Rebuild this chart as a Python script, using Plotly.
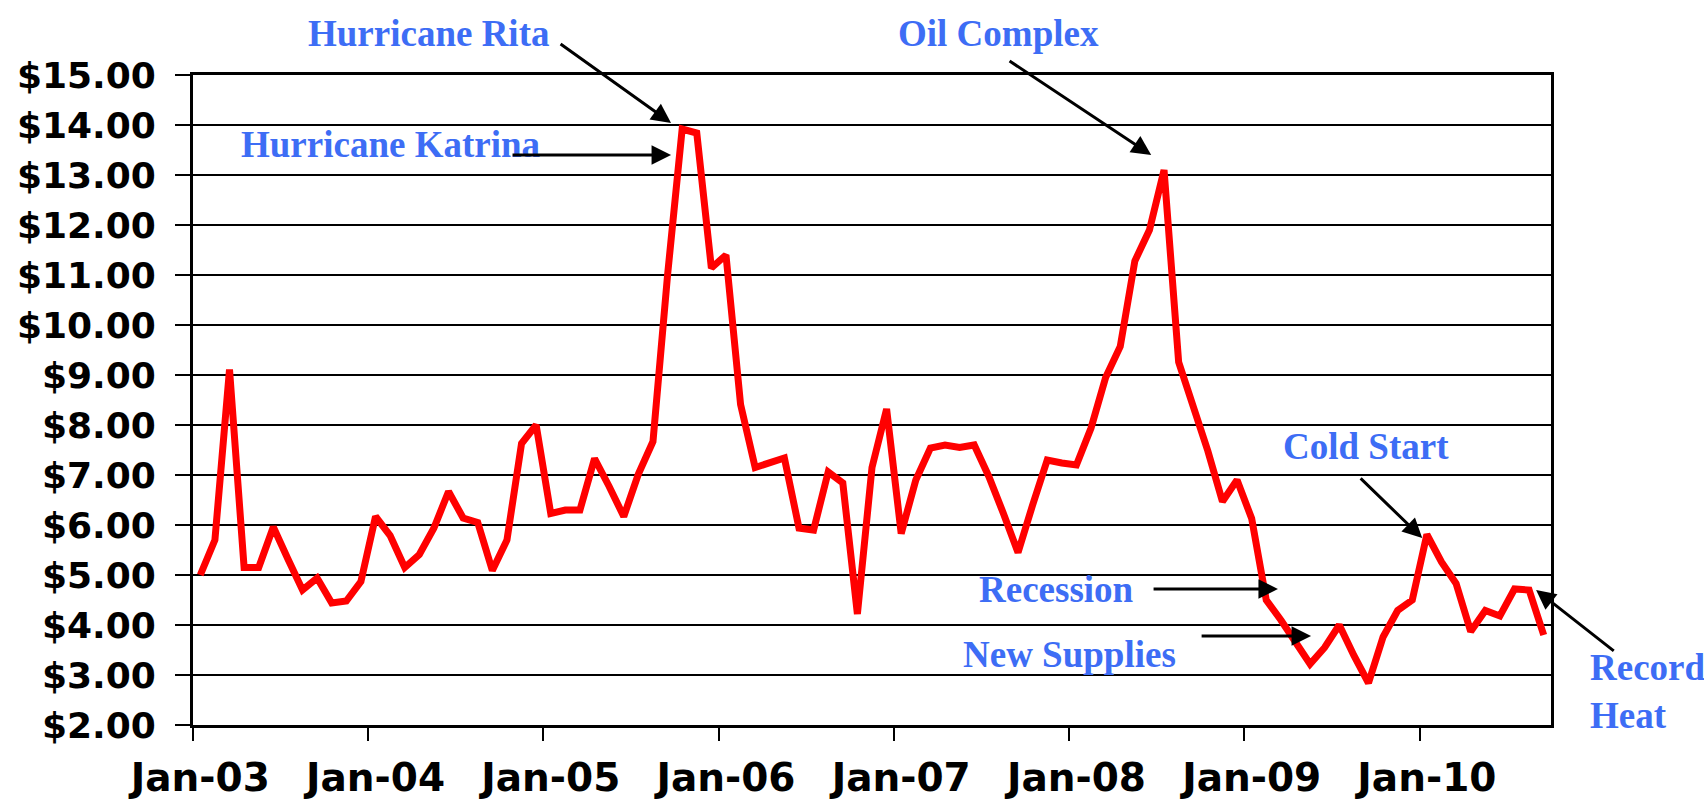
import plotly.graph_objects as go

# Monthly prices, Jan-03 .. Sep-10 ($)
prices = [
    5.00, 5.70, 9.11, 5.15, 5.15, 5.96, 5.32, 4.70, 4.94, 4.44, 4.48, 4.87,
    6.17, 5.79, 5.15, 5.41, 5.94, 6.67, 6.14, 6.05, 5.09, 5.70, 7.63, 8.00,
    6.23, 6.30, 6.30, 7.33, 6.77, 6.17, 7.02, 7.67, 11.00, 13.92, 13.84, 11.14,
    11.40, 8.41, 7.15, 7.25, 7.34, 5.94, 5.90, 7.06, 6.84, 4.22, 7.15, 8.32,
    5.83, 6.90, 7.54, 7.60, 7.55, 7.60, 6.97, 6.23, 5.45, 6.40, 7.30, 7.24,
    7.20, 7.94, 8.95, 9.57, 11.28, 11.90, 13.10, 9.26, 8.38, 7.48, 6.47, 6.90,
    6.13, 4.50, 4.10, 3.68, 3.22, 3.55, 4.00, 3.39, 2.84, 3.76, 4.29, 4.50,
    5.81, 5.26, 4.83, 3.87, 4.29, 4.18, 4.72, 4.70, 3.80,
]
month_index = list(range(len(prices)))
tick_labels = ["Jan-03", "Jan-04", "Jan-05", "Jan-06", "Jan-07", "Jan-08", "Jan-09", "Jan-10"]
tick_positions = [12 * i for i in range(len(tick_labels))]

BLUE = "#3d6df5"

fig = go.Figure()
fig.add_trace(go.Scatter(
    x=month_index, y=prices, mode="lines",
    line=dict(color="#ff0000", width=7),
    hoverinfo="skip", showlegend=False,
))

# annotation texts (paper coordinates)
labels = [
    ("Hurricane Rita", 0.1731, 1.0631, "center"),
    ("Hurricane Katrina", 0.1457, 0.8938, "center"),
    ("Oil Complex", 0.5935, 1.0646, "center"),
    ("Cold Start", 0.8641, 0.4292, "center"),
    ("Recession", 0.6355, 0.2077, "center"),
    ("New Supplies", 0.6454, 0.1092, "center"),
    ("Record<br>Heat", 1.0272, 0.0523, "left"),
]
for txt, x, y, anchor in labels:
    fig.add_annotation(
        x=x, y=y, xref="paper", yref="paper", text=txt, showarrow=False,
        xanchor=anchor, yanchor="middle", align="left",
        font=dict(family="Liberation Serif", size=37, color=BLUE, weight="bold"),
    )

# arrows: (tail x, tail y, head x, head y) in data coordinates
arrows = [
    (24.57, 15.64, 32.24, 14.04),
    (21.28, 13.40, 32.24, 13.40),
    (55.32, 15.30, 65.12, 13.40),
    (79.36, 6.96, 83.68, 5.74),
    (65.18, 4.72, 73.80, 4.72),
    (68.47, 3.78, 76.07, 3.78),
    (96.90, 3.46, 91.48, 4.70),
]
for ax, ay, hx, hy in arrows:
    fig.add_annotation(
        x=hx, y=hy, ax=ax, ay=ay, xref="x", yref="y", axref="x", ayref="y",
        text="", showarrow=True, arrowhead=2, arrowsize=1.3, arrowwidth=3,
        arrowcolor="black", standoff=0, startstandoff=0,
    )

fig.update_layout(
    width=1704, height=799,
    margin=dict(l=193, r=153, t=75, b=74),
    paper_bgcolor="white", plot_bgcolor="white",
    showlegend=False,
)
fig.update_xaxes(
    range=[-0.5, len(prices) - 0.5], automargin=False,
    tickvals=tick_positions, ticktext=tick_labels,
    ticks="", showgrid=False, zeroline=False,
    showline=True, linecolor="black", linewidth=3, mirror=True,
    tickfont=dict(family="DejaVu Sans", size=39, color="black", weight="bold"),
    ticklabelstandoff=16,
    minor=dict(tick0=-0.5, dtick=12, ticks="outside", ticklen=13, tickwidth=2,
               tickcolor="black", showgrid=False),
)
fig.update_yaxes(
    range=[2, 15], dtick=1, tick0=2, automargin=False,
    tickprefix="$", tickformat=".2f",
    showgrid=True, gridcolor="black", gridwidth=2, zeroline=False,
    showline=True, linecolor="black", linewidth=3, mirror=True,
    ticks="outside", ticklen=15, tickwidth=2, tickcolor="black",
    tickfont=dict(family="DejaVu Sans", size=36, color="black", weight="bold"),
    ticklabelstandoff=12,
)

fig.write_html(
    "out.html",
    config={"displayModeBar": False},
    post_script="document.body.style.margin='0';document.body.style.overflow='hidden';",
)
